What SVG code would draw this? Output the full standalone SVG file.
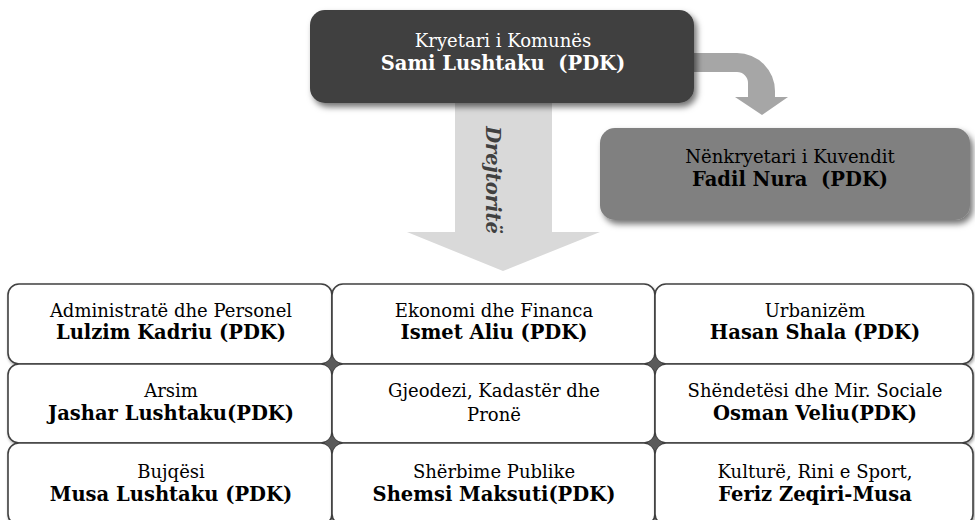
<svg xmlns="http://www.w3.org/2000/svg" width="975" height="520" viewBox="0 0 975 520">
<defs>
<filter id="sh" x="-10%" y="-20%" width="125%" height="150%">
<feDropShadow dx="3" dy="4" stdDeviation="3" flood-color="#000" flood-opacity="0.55"/>
</filter>
<filter id="sh2" x="-10%" y="-20%" width="125%" height="150%">
<feDropShadow dx="1" dy="2" stdDeviation="1.5" flood-color="#000" flood-opacity="0.35"/>
</filter>
<style>
text{font-family:"DejaVu Serif","Liberation Serif",serif;font-size:18px;text-anchor:middle;white-space:pre;}
.b{font-weight:bold;font-size:19.5px;}
.w{fill:#ffffff;}
.k{fill:#000000;}
.cell{fill:#ffffff;stroke:#404040;stroke-width:1.6;filter:url(#sh2);}
.dia{fill:#5a5a5a;}
</style>
</defs>
<rect width="975" height="520" fill="#ffffff"/>
<g id="connectors">
<path d="M455,100 H552 V232 H600 L503,271 L407,232 H455 Z" fill="#d9d9d9"/>
<text transform="translate(486,180) rotate(90)" style="font-weight:bold;font-style:italic;fill:#404040;font-size:19.5px">Drejtoritë</text>
<path d="M690,53 H737 A38,38 0 0 1 775,91 V97 H788 L762,115 L735,97 H748 V83 A11,11 0 0 0 737,72 H690 Z" fill="#a6a6a6"/>
</g>
<g id="kryetari">
<rect x="310" y="10" width="384" height="93" rx="15" fill="#404040" filter="url(#sh)"/>
<text x="503" y="47" class="w">Kryetari i Komunës</text>
<text x="503" y="70" class="w b" xml:space="preserve">Sami Lushtaku  (PDK)</text>
</g>
<g id="nenkryetari">
<rect x="600" y="128" width="370" height="92" rx="15" fill="#808080" filter="url(#sh)"/>
<text x="790" y="163" class="k">Nënkryetari i Kuvendit</text>
<text x="790" y="186" class="k b" xml:space="preserve">Fadil Nura  (PDK)</text>
</g>
<g id="c11"><rect class="cell" x="8" y="284" width="324" height="80" rx="11"/>
<text x="171" y="317">Administratë dhe Personel</text><text x="171" y="339" class="b">Lulzim Kadriu (PDK)</text></g>
<g id="c12"><rect class="cell" x="332" y="284" width="323" height="80" rx="11"/>
<text x="494" y="317">Ekonomi dhe Financa</text><text x="494" y="339" class="b">Ismet Aliu (PDK)</text></g>
<g id="c13"><rect class="cell" x="655" y="284" width="318" height="80" rx="11"/>
<text x="815" y="317">Urbanizëm</text><text x="815" y="339" class="b">Hasan Shala (PDK)</text></g>
<g id="c21"><rect class="cell" x="8" y="364" width="324" height="79" rx="11"/>
<text x="171" y="397">Arsim</text><text x="171" y="420" class="b">Jashar Lushtaku(PDK)</text></g>
<g id="c22"><rect class="cell" x="332" y="364" width="323" height="79" rx="11"/>
<text x="494" y="397">Gjeodezi, Kadastër dhe</text><text x="494" y="421">Pronë</text></g>
<g id="c23"><rect class="cell" x="655" y="364" width="318" height="79" rx="11"/>
<text x="815" y="397">Shëndetësi dhe Mir. Sociale</text><text x="815" y="420" class="b">Osman Veliu(PDK)</text></g>
<g id="c31"><rect class="cell" x="8" y="443" width="324" height="82" rx="11"/>
<text x="171" y="478">Bujqësi</text><text x="171" y="501" class="b">Musa Lushtaku (PDK)</text></g>
<g id="c32"><rect class="cell" x="332" y="443" width="323" height="82" rx="11"/>
<text x="494" y="478">Shërbime Publike</text><text x="494" y="501" class="b">Shemsi Maksuti(PDK)</text></g>
<g id="c33"><rect class="cell" x="655" y="443" width="318" height="82" rx="11"/>
<text x="815" y="478">Kulturë, Rini e Sport,</text><text x="815" y="501" class="b">Feriz Zeqiri-Musa</text></g>
<g id="junctions">
<path class="dia" d="M332,357 L339,364 L332,371 L325,364 Z"/>
<path class="dia" d="M655,357 L662,364 L655,371 L648,364 Z"/>
<path class="dia" d="M332,436 L339,443 L332,450 L325,443 Z"/>
<path class="dia" d="M655,436 L662,443 L655,450 L648,443 Z"/>
</g>
</svg>
